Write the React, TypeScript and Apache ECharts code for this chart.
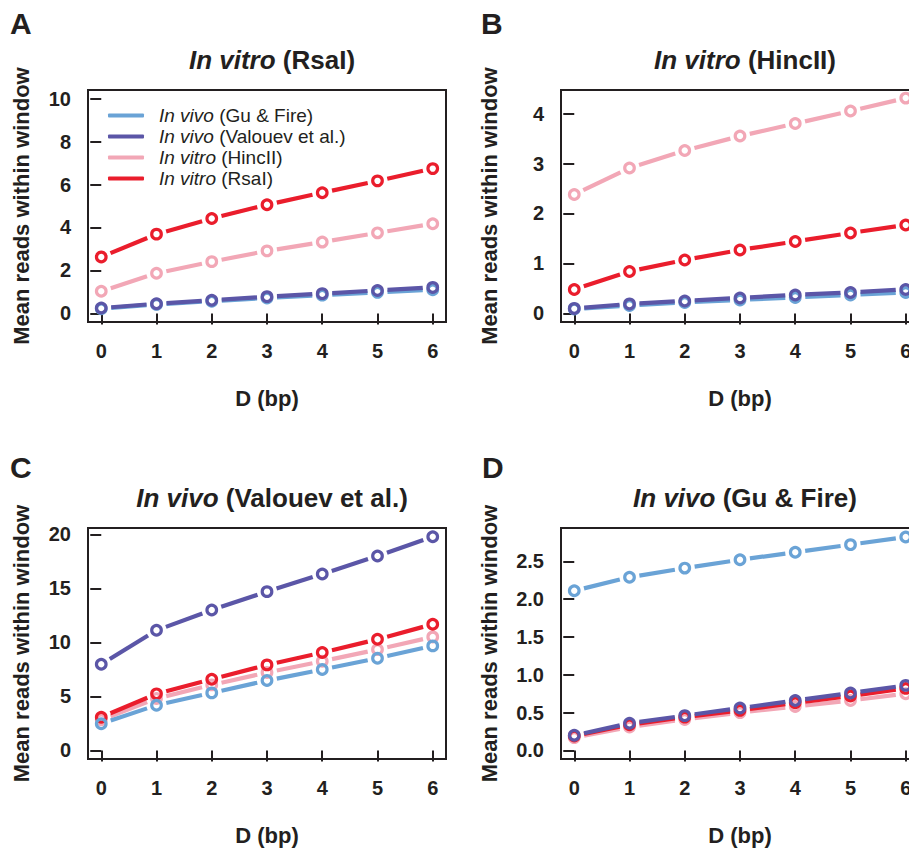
import React, { useEffect, useRef } from "react";
import * as echarts from "echarts";

const X_VALUES = [0, 1, 2, 3, 4, 5, 6];

const NAME_GU = "In vivo (Gu & Fire)";
const NAME_VAL = "In vivo (Valouev et al.)";
const NAME_HINC = "In vitro (HincII)";
const NAME_RSA = "In vitro (RsaI)";

// Panel A: In vitro (RsaI)
const aGu = [0.22, 0.42, 0.57, 0.72, 0.85, 0.98, 1.1];
const aVal = [0.25, 0.45, 0.61, 0.78, 0.92, 1.07, 1.21];
const aHinc = [1.03, 1.87, 2.41, 2.91, 3.32, 3.75, 4.17];
const aRsa = [2.63, 3.69, 4.42, 5.06, 5.62, 6.17, 6.74];

// Panel B: In vitro (HincII)
const bGu = [0.09, 0.16, 0.22, 0.27, 0.32, 0.37, 0.42];
const bVal = [0.1, 0.19, 0.25, 0.31, 0.37, 0.42, 0.48];
const bHinc = [2.38, 2.91, 3.26, 3.55, 3.8, 4.05, 4.31];
const bRsa = [0.48, 0.84, 1.07, 1.27, 1.44, 1.61, 1.77];

// Panel C: In vivo (Valouev et al.)
const cGu = [2.47, 4.19, 5.33, 6.47, 7.49, 8.54, 9.68];
const cVal = [7.98, 11.12, 13.0, 14.7, 16.33, 18.0, 19.78];
const cHinc = [2.84, 4.81, 6.07, 7.21, 8.26, 9.34, 10.51];
const cRsa = [3.08, 5.24, 6.59, 7.92, 9.06, 10.29, 11.68];

// Panel D: In vivo (Gu & Fire)
const dGu = [2.11, 2.29, 2.41, 2.52, 2.62, 2.72, 2.82];
const dVal = [0.2, 0.36, 0.46, 0.56, 0.66, 0.76, 0.86];
const dHinc = [0.17, 0.31, 0.41, 0.5, 0.58, 0.66, 0.75];
const dRsa = [0.19, 0.34, 0.44, 0.53, 0.63, 0.72, 0.82];

const Y_TICKS_A = [0, 2, 4, 6, 8, 10];
const Y_TICKS_B = [0, 1, 2, 3, 4];
const Y_TICKS_C = [0, 5, 10, 15, 20];
const Y_TICKS_D = [0, 0.5, 1.0, 1.5, 2.0, 2.5];

const PANEL_TITLES = [
  "{i|In vitro} (RsaI)",
  "{i|In vitro} (HincII)",
  "{i|In vivo} (Valouev et al.)",
  "{i|In vivo} (Gu & Fire)",
];
const PANEL_LETTERS = ["A", "B", "C", "D"];

const COLORS: Record<string, string> = {
  [NAME_GU]: "#6aa3d6",
  [NAME_VAL]: "#5b56a7",
  [NAME_HINC]: "#f2a7b6",
  [NAME_RSA]: "#ea1d2c",
};

const FONT = "'Liberation Sans', Arial, Helvetica, sans-serif";
const INK = "#231f20";

export default function App() {
  const ref = useRef<HTMLDivElement>(null);

  useEffect(() => {
    document.body.style.margin = "0";
    if (!ref.current) return;
    const chart = echarts.init(ref.current, null, { renderer: "svg" });

    const grids = [
      { left: 88, top: 90, width: 358, height: 232 },
      { left: 561, top: 90, width: 358, height: 232 },
      { left: 88, top: 528, width: 358, height: 231 },
      { left: 561, top: 528, width: 358, height: 231 },
    ];
    const yRanges = [
      { min: -0.4, max: 10.4, ticks: Y_TICKS_A, dec: 0 },
      { min: -0.172, max: 4.472, ticks: Y_TICKS_B, dec: 0 },
      { min: -0.79, max: 20.59, ticks: Y_TICKS_C, dec: 0 },
      { min: -0.113, max: 2.94, ticks: Y_TICKS_D, dec: 1 },
    ];
    const panelData = [
      { [NAME_HINC]: aHinc, [NAME_RSA]: aRsa, [NAME_GU]: aGu, [NAME_VAL]: aVal },
      { [NAME_HINC]: bHinc, [NAME_RSA]: bRsa, [NAME_GU]: bGu, [NAME_VAL]: bVal },
      { [NAME_HINC]: cHinc, [NAME_RSA]: cRsa, [NAME_GU]: cGu, [NAME_VAL]: cVal },
      { [NAME_HINC]: dHinc, [NAME_RSA]: dRsa, [NAME_GU]: dGu, [NAME_VAL]: dVal },
    ];
    const drawOrder = [NAME_HINC, NAME_RSA, NAME_GU, NAME_VAL];

    const tickLabelStyle = {
      fontFamily: FONT,
      fontWeight: "bold" as const,
      fontSize: 20,
      color: INK,
    };

    const xAxes = grids.map((_, i) => ({
      type: "value",
      gridIndex: i,
      min: -0.24,
      max: 6.24,
      axisLine: { show: false },
      splitLine: { show: false },
      axisTick: {
        show: true,
        customValues: X_VALUES,
        length: 11,
        lineStyle: { color: INK, width: 2 },
      },
      axisLabel: {
        customValues: X_VALUES,
        margin: 19,
        ...tickLabelStyle,
      },
      name: "D (bp)",
      nameLocation: "middle",
      nameGap: 65,
      nameTextStyle: { fontFamily: FONT, fontWeight: "bold", fontSize: 22, color: INK },
    }));

    const yAxes = grids.map((_, i) => ({
      type: "value",
      gridIndex: i,
      min: yRanges[i].min,
      max: yRanges[i].max,
      axisLine: { show: false },
      splitLine: { show: false },
      axisTick: {
        show: true,
        customValues: yRanges[i].ticks,
        length: 11,
        lineStyle: { color: INK, width: 2 },
      },
      axisLabel: {
        customValues: yRanges[i].ticks,
        margin: 17,
        formatter: (v: number) => v.toFixed(yRanges[i].dec),
        ...tickLabelStyle,
      },
      name: "Mean reads within window",
      nameLocation: "middle",
      nameGap: i % 2 === 0 ? 56 : 61,
      nameTextStyle: { fontFamily: FONT, fontWeight: "bold", fontSize: 22, color: INK },
    }));

    const GAP = 10;
    const series: any[] = [];
    panelData.forEach((pd, p) => {
      drawOrder.forEach((name) => {
        const vals: number[] = (pd as any)[name];
        const color = COLORS[name];
        series.push({
          type: "custom",
          name,
          xAxisIndex: p,
          yAxisIndex: p,
          clip: false,
          itemStyle: { color },
          encode: { x: 0, y: 1 },
          data: vals.map((v, i) => [
            X_VALUES[i],
            v,
            i + 1 < vals.length ? X_VALUES[i + 1] : X_VALUES[i],
            i + 1 < vals.length ? vals[i + 1] : v,
          ]),
          renderItem: (params: any, api: any) => {
            const p0 = api.coord([api.value(0), api.value(1)]);
            const p1 = api.coord([api.value(2), api.value(3)]);
            const children: any[] = [];
            const dx = p1[0] - p0[0];
            const dy = p1[1] - p0[1];
            const len = Math.sqrt(dx * dx + dy * dy);
            if (len > 2 * GAP) {
              const ux = dx / len;
              const uy = dy / len;
              children.push({
                type: "line",
                shape: {
                  x1: p0[0] + ux * GAP,
                  y1: p0[1] + uy * GAP,
                  x2: p1[0] - ux * GAP,
                  y2: p1[1] - uy * GAP,
                },
                style: { stroke: color, lineWidth: 4.2, lineCap: "butt" },
              });
            }
            children.push({
              type: "circle",
              shape: { cx: p0[0], cy: p0[1], r: 4.8 },
              style: { fill: "none", stroke: color, lineWidth: 3.2 },
            });
            return { type: "group", children };
          },
        });
      });
    });

    const titles: any[] = [];
    grids.forEach((g, i) => {
      titles.push({
        text: PANEL_TITLES[i],
        left: g.left + 179,
        top: g.top - 48,
        textAlign: "center",
        textStyle: {
          fontFamily: FONT,
          fontWeight: "bold",
          fontSize: 26,
          color: INK,
          rich: {
            i: { fontFamily: FONT, fontWeight: "bold", fontStyle: "italic", fontSize: 26, color: INK },
          },
        },
      });
    });

    const letterPos = [
      [10, 8],
      [481, 8],
      [10, 452],
      [482, 452],
    ];
    const graphics = PANEL_LETTERS.map((t, i) => ({
      type: "text",
      left: letterPos[i][0],
      top: letterPos[i][1],
      style: { text: t, fontFamily: FONT, fontWeight: "bold", fontSize: 30, fill: INK },
    }));

    chart.setOption({
      animation: false,
      backgroundColor: "#ffffff",
      title: titles,
      grid: grids.map((g) => ({
        ...g,
        show: true,
        containLabel: false,
        outerBoundsMode: "none",
        borderColor: INK,
        borderWidth: 2,
        backgroundColor: "transparent",
      })),
      xAxis: xAxes,
      yAxis: yAxes,
      legend: {
        data: [NAME_GU, NAME_VAL, NAME_HINC, NAME_RSA],
        orient: "vertical",
        left: 103,
        top: 101,
        icon: "roundRect",
        itemWidth: 36,
        itemHeight: 4,
        itemGap: 2,
        selectedMode: false,
        formatter: (n: string) => n.replace(/^(In vivo|In vitro)/, "{i|$1}"),
        textStyle: {
          fontFamily: FONT,
          fontSize: 19,
          color: INK,
          padding: [0, 0, 0, 10],
          rich: {
            i: { fontFamily: FONT, fontStyle: "italic", fontSize: 19, color: INK },
          },
        },
      },
      graphic: graphics,
      series,
    });

    return () => chart.dispose();
  }, []);

  return <div ref={ref} style={{ width: 909, height: 848 }} />;
}
